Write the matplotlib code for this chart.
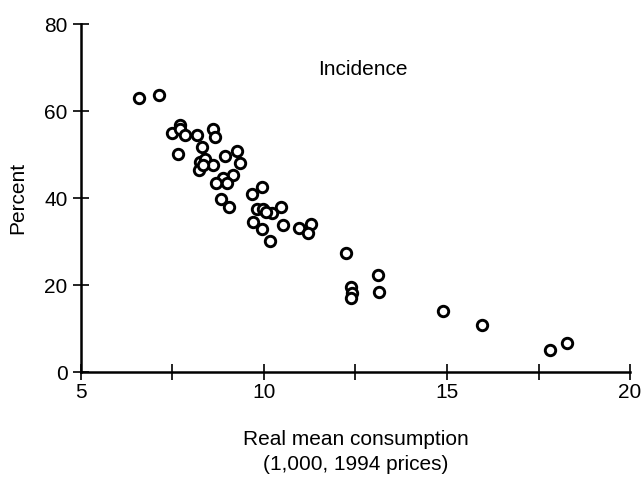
import matplotlib
matplotlib.use('Agg')
import numpy as np
from matplotlib import pyplot as plt
from matplotlib.ticker import MultipleLocator
from matplotlib import font_manager

# real mean consumption (1,000, 1994 prices) and poverty incidence (%)
consumption = [6.58, 7.14, 7.70, 7.49, 7.70, 7.85, 8.17, 8.60, 8.66, 7.65,
               8.30, 8.25, 8.39, 8.22, 8.61, 8.33, 8.94, 9.27, 9.34, 9.16,
               8.89, 8.69, 8.98, 8.84, 9.05, 9.95, 9.68, 9.80, 9.98, 10.21,
               10.07, 10.46, 9.71, 9.94, 10.16, 10.53, 10.96, 11.30, 11.21, 12.23,
               13.12, 12.38, 12.40, 12.37, 13.13, 14.89, 15.95, 17.80, 18.27]
incidence = [63.1, 63.8, 56.9, 55.1, 55.8, 54.5, 54.5, 55.9, 54.1, 50.2,
             51.8, 48.3, 48.9, 46.4, 47.7, 47.6, 49.7, 50.9, 48.0, 45.4,
             44.7, 43.4, 43.5, 39.9, 38.0, 42.5, 40.9, 37.6, 37.6, 36.6,
             36.9, 38.0, 34.6, 32.9, 30.2, 33.8, 33.2, 34.0, 32.1, 27.4,
             22.3, 19.6, 18.1, 17.1, 18.5, 14.1, 10.8, 5.2, 6.7]

x_ticks = [5, 10, 15, 20]
y_ticks = [0, 20, 40, 60, 80]

# prefer a condensed face if one is installed
names = {f.name for f in font_manager.fontManager.ttflist}
fam = 'Liberation Sans Narrow' if 'Liberation Sans Narrow' in names else 'Liberation Sans'
plt.rcParams['font.family'] = [fam, 'DejaVu Sans']

fig = plt.figure(figsize=(6.41, 4.84), dpi=100)
ax = fig.add_axes([0.126, 0.231, 0.857, 0.719])

ax.plot(consumption, incidence, linestyle='none', marker='o', markersize=7.5,
        markerfacecolor='white', markeredgecolor='black', markeredgewidth=2.1)

ax.set_xlim(5, 20)
ax.set_ylim(0, 80)
ax.set_xticks(x_ticks)
ax.set_yticks(y_ticks)
ax.xaxis.set_minor_locator(MultipleLocator(2.5))
ax.tick_params(which='both', direction='inout', length=12, width=1.2,
               labelsize=15, color='black')
ax.tick_params(axis='x', pad=2)

for s in ['top', 'right']:
    ax.spines[s].set_visible(False)
for s in ['left', 'bottom']:
    ax.spines[s].set_linewidth(1.8)

ax.set_ylabel('Percent', fontsize=15, labelpad=12)
ax.set_xlabel('Real mean consumption\n(1,000, 1994 prices)', fontsize=15,
              labelpad=20, linespacing=1.4)
ax.text(12.7, 69.5, 'Incidence', fontsize=15, ha='center', va='center')

fig.savefig('out.png', dpi=100)
